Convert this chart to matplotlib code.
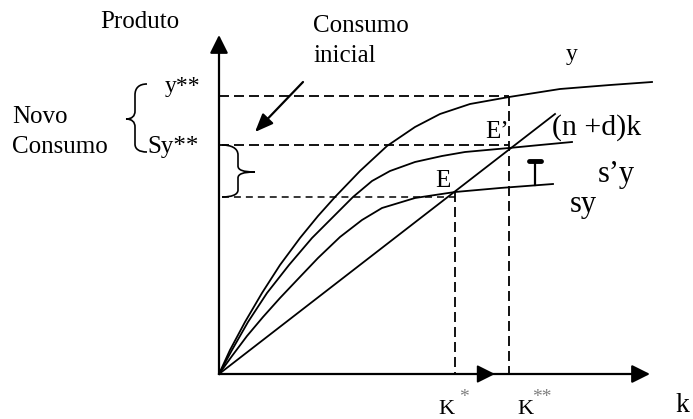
import matplotlib
matplotlib.use("Agg")
import matplotlib.pyplot as plt
from matplotlib.path import Path
from matplotlib.patches import PathPatch

plt.rcParams['font.family'] = ['Liberation Serif', 'DejaVu Serif']
plt.rcParams['lines.scale_dashes'] = False

# ---- data (capital k on x, output on y; origin at the axes corner) ----
y_k = [0, 11, 26, 43, 61, 81, 99, 116, 141, 168, 196, 221, 251, 290, 341, 391, 433]
y_v = [0, 24, 52, 81, 109, 136, 158, 177, 203, 228, 247, 260, 270, 277, 285, 289, 292]

s2y_k = [0, 13, 29, 48, 70, 93, 114, 134, 153, 171, 196, 223, 246, 290, 321, 353]
s2y_v = [0, 24, 52, 81, 109, 136, 157, 177, 193, 203, 212, 218, 222, 226, 229, 232]

sy_k = [0, 13, 28, 44, 61, 79, 99, 121, 143, 163, 196, 236, 281, 334]
sy_v = [0, 18, 38, 57, 76, 95, 116, 137, 154, 166, 176, 182, 186, 190]

line_k = [0, 336]
line_v = [0, 260]

k_star = 236
k_star2 = 290
y_star2 = 278
sy_star2 = 229
sy_star = 177
y_end_E = 182

fig = plt.figure(figsize=(6.93, 4.19), dpi=100)
ax = fig.add_axes([0, 0, 1, 1])
ax.set_xlim(-219, 474)
ax.set_ylim(-45, 374)
ax.axis('off')

lw_curve = 1.3
ax.plot(y_k, y_v, color='black', lw=lw_curve, solid_joinstyle='round')
ax.plot(s2y_k, s2y_v, color='black', lw=lw_curve, solid_joinstyle='round')
ax.plot(sy_k, sy_v, color='black', lw=lw_curve, solid_joinstyle='round')
ax.plot(line_k, line_v, color='black', lw=lw_curve)

# dashed guides
dash = (7.2, 3.6)
ax.plot([0, k_star2], [y_star2, y_star2], color='black', lw=1.3, dashes=dash)
ax.plot([0, k_star2], [sy_star2, sy_star2], color='black', lw=1.3, dashes=dash)
ax.plot([3, k_star], [sy_star, sy_star], color='black', lw=1.1, dashes=(5, 3.6))
ax.plot([k_star, k_star], [y_end_E, 0], color='black', lw=1.3, dashes=dash)
ax.plot([k_star2, k_star2], [y_star2, 0], color='black', lw=1.3, dashes=dash)

# axes with arrows
def arrow(tail, tip, hl=1.1, hw=0.55, lw=1.6):
    ax.annotate('', xy=tip, xytext=tail,
                arrowprops=dict(arrowstyle=f'-|>,head_length={hl},head_width={hw}',
                                mutation_scale=10, lw=lw, color='black',
                                shrinkA=0, shrinkB=0))

arrow((0, 0), (0, 339))
arrow((0, 0), (431, 0))
arrow((200, 0), (276, 0), lw=1.3)
arrow((84, 292), (36, 242), hl=1.1, hw=0.45, lw=1.6)

# T-shaped arrow between sy and s'y
ax.plot([316, 316], [189, 212], color='black', lw=1.6)
ax.plot([310, 322], [213, 213], color='black', lw=3.5, solid_capstyle='round')

# braces
def brace(verts):
    codes = [Path.MOVETO, Path.CURVE4, Path.CURVE4, Path.CURVE4, Path.LINETO,
             Path.CURVE4, Path.CURVE4, Path.CURVE4,
             Path.CURVE4, Path.CURVE4, Path.CURVE4, Path.LINETO,
             Path.CURVE4, Path.CURVE4, Path.CURVE4]
    ax.add_patch(PathPatch(Path(verts, codes), fill=False, lw=1.2, color='black'))

brace([(-72, 290), (-80, 290), (-84, 286), (-84, 279), (-84, 263),
       (-84, 258), (-87, 255), (-93, 255),
       (-87, 255), (-84, 252), (-84, 247), (-84, 230),
       (-84, 225), (-80, 222), (-72, 222)])
brace([(3, 229), (12, 229), (19, 226), (19, 219), (19, 208),
       (19, 204), (24, 202), (36, 202),
       (24, 202), (19, 200), (19, 196), (19, 184),
       (19, 179), (12, 177), (3, 177)])

# texts
t = dict(ha='left', va='baseline', color='black')
ax.text(-119, 346, 'Produto', fontsize=18, **t)
ax.text(94, 342, 'Consumo', fontsize=18, **t)
ax.text(94, 312, 'inicial', fontsize=18, **t)
ax.text(347, 314, 'y', fontsize=17, **t)
ax.text(-54, 282, 'y**', fontsize=17, **t)
ax.text(-72, 221, 'Sy**', fontsize=18, **t)
ax.text(-207, 251, 'Novo', fontsize=18, **t)
ax.text(-207, 221, 'Consumo', fontsize=18, **t)
ax.text(266, 236, 'E\u2019', fontsize=18, **t)
ax.text(216, 187, 'E', fontsize=18, **t)
ax.text(333, 239, '(n +d)k', fontsize=21.5, **t)
ax.text(379, 192, 's\u2019y', fontsize=22, **t)
ax.text(351, 162, 'sy', fontsize=22, **t)
ax.text(219, -40, 'K', fontsize=16, **t)
ax.text(240, -28, '*', fontsize=14, ha='left', va='baseline', color='#808080')
ax.text(298, -40, 'K', fontsize=16, **t)
ax.text(313, -28, '**', fontsize=14, ha='left', va='baseline', color='#808080')
ax.text(456, -38, 'k', fontsize=20, **t)

fig.savefig('out.png', dpi=100)
